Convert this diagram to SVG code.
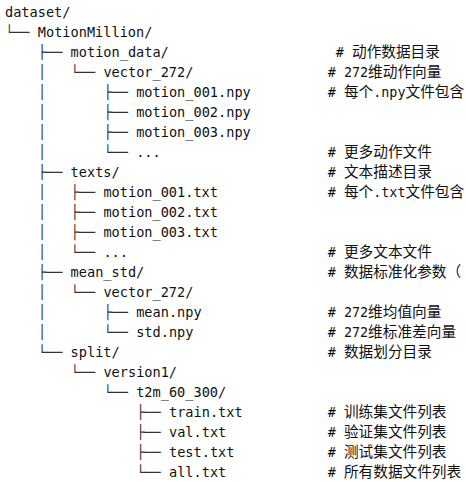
<svg xmlns="http://www.w3.org/2000/svg" width="466" height="482" viewBox="0 0 466 482">
<style>
text{font-family:"DejaVu Sans Mono","Liberation Mono","Noto Sans CJK SC",monospace;font-size:13.6px;fill:#111;white-space:pre}
.cmt{font-size:13.4px}
.cjk{font-family:"Noto Sans CJK SC","Noto Sans CJK JP",sans-serif;font-size:14.67px}
.con text{fill:#333}
</style>
<rect width="466" height="482" fill="#fff"/>
<g id="connectors" class="con">
<text x="5" y="37">└──</text>
<text x="37.8" y="57">├──</text>
<text x="37.8" y="77">│</text><text x="70.6" y="77">└──</text>
<text x="37.8" y="97">│</text><text x="103.4" y="97">├──</text>
<text x="37.8" y="117">│</text><text x="103.4" y="117">├──</text>
<text x="37.8" y="137">│</text><text x="103.4" y="137">├──</text>
<text x="37.8" y="157">│</text><text x="103.4" y="157">└──</text>
<text x="37.8" y="177">├──</text>
<text x="37.8" y="197">│</text><text x="70.6" y="197">├──</text>
<text x="37.8" y="217">│</text><text x="70.6" y="217">├──</text>
<text x="37.8" y="237">│</text><text x="70.6" y="237">├──</text>
<text x="37.8" y="257">│</text><text x="70.6" y="257">└──</text>
<text x="37.8" y="277">├──</text>
<text x="37.8" y="297">│</text><text x="70.6" y="297">└──</text>
<text x="37.8" y="317">│</text><text x="103.4" y="317">├──</text>
<text x="37.8" y="337">│</text><text x="103.4" y="337">└──</text>
<text x="37.8" y="357">└──</text>
<text x="70.6" y="377">└──</text>
<text x="103.4" y="397">└──</text>
<text x="136.2" y="417">├──</text>
<text x="136.2" y="437">├──</text>
<text x="136.2" y="457">├──</text>
<text x="136.2" y="477">└──</text>
</g>
<g id="dataset"><text x="5" y="17">dataset/</text></g>
<g id="MotionMillion"><text x="37.8" y="37">MotionMillion/</text></g>
<g id="motion_data"><text x="70.6" y="57">motion_data/</text><text class="cmt" x="335.87" y="57"># <tspan class="cjk">动作数据目录</tspan></text></g>
<g id="motion_vector_272"><text x="103.4" y="77">vector_272/</text><text class="cmt" x="327.8" y="77"># 272<tspan class="cjk">维动作向量</tspan></text></g>
<g id="motion_001_npy"><text x="136.2" y="97">motion_001.npy</text><text class="cmt" x="327.8" y="97"># <tspan class="cjk">每个</tspan>.npy<tspan class="cjk">文件包含</tspan></text></g>
<g id="motion_002_npy"><text x="136.2" y="117">motion_002.npy</text></g>
<g id="motion_003_npy"><text x="136.2" y="137">motion_003.npy</text></g>
<g id="motion_more"><text x="136.2" y="157">...</text><text class="cmt" x="327.8" y="157"># <tspan class="cjk">更多动作文件</tspan></text></g>
<g id="texts"><text x="70.6" y="177">texts/</text><text class="cmt" x="327.8" y="177"># <tspan class="cjk">文本描述目录</tspan></text></g>
<g id="motion_001_txt"><text x="103.4" y="197">motion_001.txt</text><text class="cmt" x="327.8" y="197"># <tspan class="cjk">每个</tspan>.txt<tspan class="cjk">文件包含</tspan></text></g>
<g id="motion_002_txt"><text x="103.4" y="217">motion_002.txt</text></g>
<g id="motion_003_txt"><text x="103.4" y="237">motion_003.txt</text></g>
<g id="texts_more"><text x="103.4" y="257">...</text><text class="cmt" x="327.8" y="257"># <tspan class="cjk">更多文本文件</tspan></text></g>
<g id="mean_std"><text x="70.6" y="277">mean_std/</text><text class="cmt" x="327.8" y="277"># <tspan class="cjk">数据标准化参数（</tspan></text></g>
<g id="mean_std_vector_272"><text x="103.4" y="297">vector_272/</text></g>
<g id="mean_npy"><text x="136.2" y="317">mean.npy</text><text class="cmt" x="327.8" y="317"># 272<tspan class="cjk">维均值向量</tspan></text></g>
<g id="std_npy"><text x="136.2" y="337">std.npy</text><text class="cmt" x="327.8" y="337"># 272<tspan class="cjk">维标准差向量</tspan></text></g>
<g id="split"><text x="70.6" y="357">split/</text><text class="cmt" x="327.8" y="357"># <tspan class="cjk">数据划分目录</tspan></text></g>
<g id="version1"><text x="103.4" y="377">version1/</text></g>
<g id="t2m_60_300"><text x="136.2" y="397">t2m_60_300/</text></g>
<g id="train_txt"><text x="169" y="417">train.txt</text><text class="cmt" x="327.8" y="417"># <tspan class="cjk">训练集文件列表</tspan></text></g>
<g id="val_txt"><text x="169" y="437">val.txt</text><text class="cmt" x="327.8" y="437"># <tspan class="cjk">验证集文件列表</tspan></text></g>
<g id="test_txt"><text x="169" y="457">test.txt</text><text class="cmt" x="327.8" y="457"># <tspan class="cjk">测试集文件列表</tspan></text></g>
<g id="all_txt"><text x="169" y="477">all.txt</text><text class="cmt" x="327.8" y="477"># <tspan class="cjk">所有数据文件列表</tspan></text></g>
</svg>
